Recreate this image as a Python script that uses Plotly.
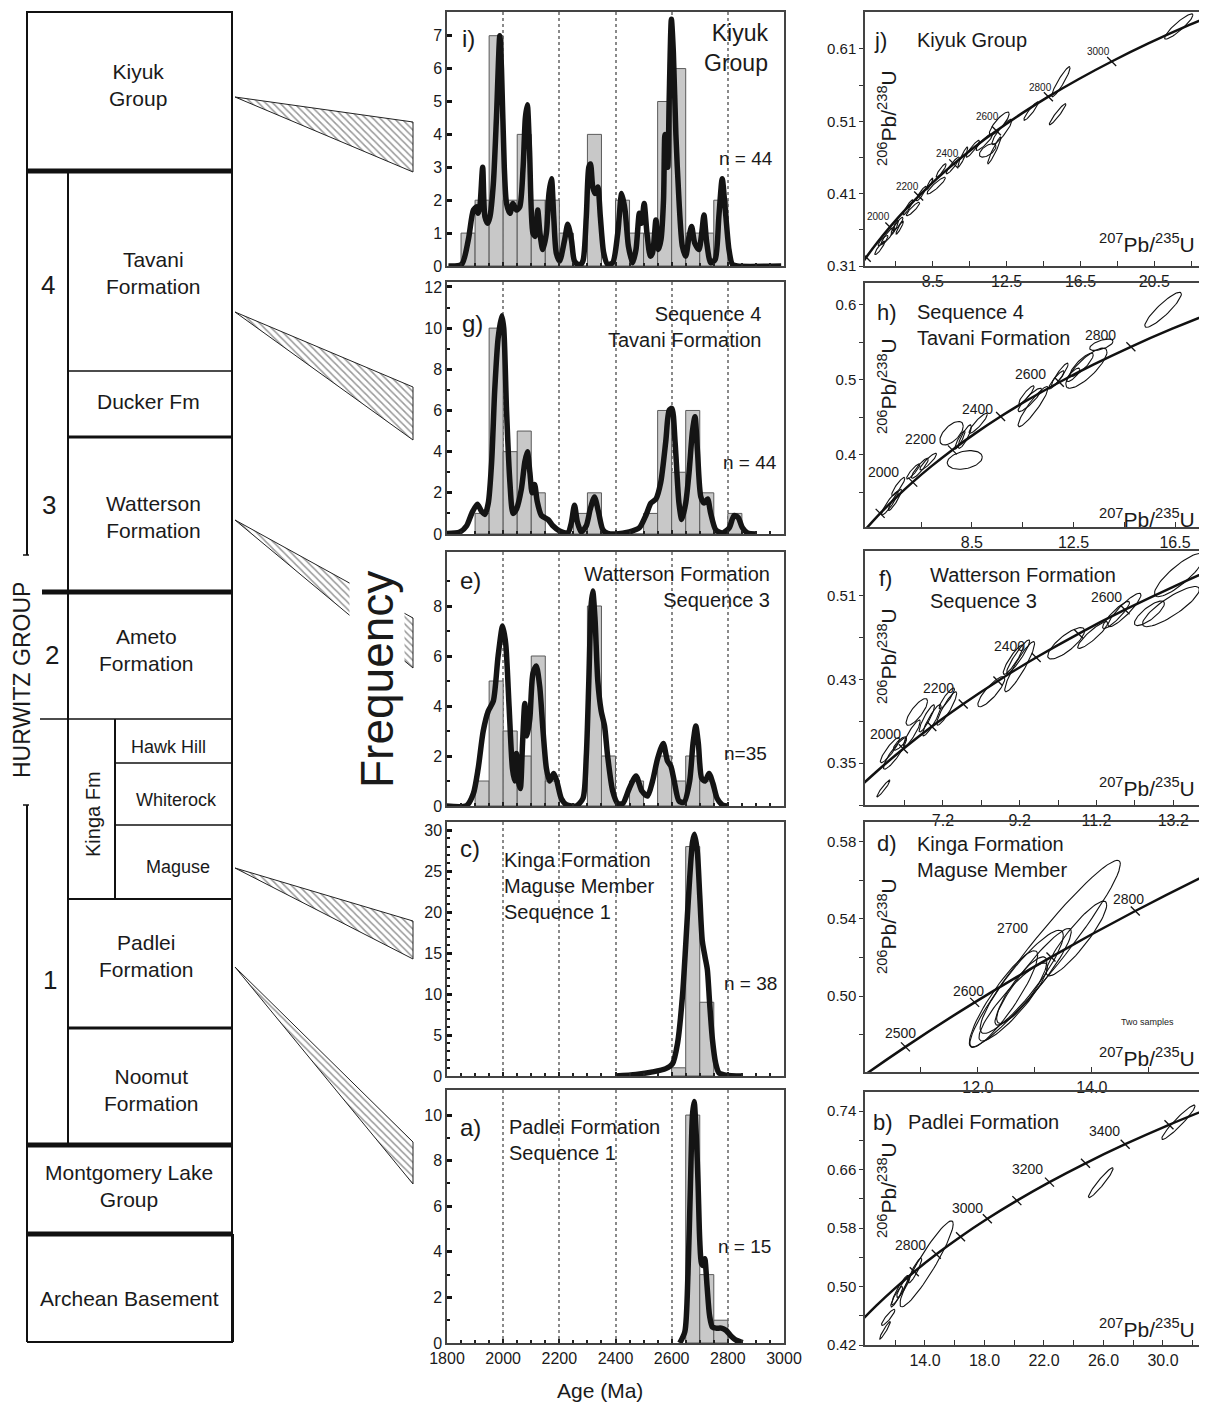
import numpy as np
import plotly.graph_objects as go

# ======================= DATA =======================
# Histograms: 50 Ma bins (bin start age) and counts
i_bins = [1850, 1900, 1950, 2000, 2050, 2100, 2150, 2200, 2250, 2300, 2350, 2400, 2450, 2500, 2550, 2600, 2650, 2700, 2750]
i_counts = [1, 2, 7, 2, 4, 2, 2, 1, 0, 4, 0, 2, 1, 1, 5, 6, 1, 1, 2]
g_bins = [1900, 1950, 2000, 2050, 2100, 2150, 2200, 2250, 2300, 2350, 2400, 2450, 2500, 2550, 2600, 2650, 2700, 2750, 2800]
g_counts = [1, 10, 4, 5, 2, 0, 0, 1, 2, 0, 0, 0, 1, 6, 3, 6, 2, 0, 1]
e_bins = [1900, 1950, 2000, 2050, 2100, 2150, 2200, 2250, 2300, 2350, 2400, 2450, 2500, 2550, 2600, 2650, 2700]
e_counts = [1, 5, 3, 2, 6, 1, 0, 0, 8, 2, 0, 1, 0, 2, 1, 2, 1]
c_bins = [2600, 2650, 2700]
c_counts = [1, 28, 9]
a_bins = [2650, 2700, 2750]
a_counts = [10, 3, 1]

# Probability density curves (age, relative probability in count units)
i_age = [1805, 1852, 1876, 1894, 1906, 1911, 1917, 1927, 1935, 1945, 1953, 1965, 1976, 1988, 1994, 2004, 2012,
         2024, 2035, 2047, 2059, 2071, 2079, 2086, 2094, 2106, 2114, 2123, 2131, 2141, 2154, 2163, 2172, 2180,
         2189, 2201, 2219, 2230, 2243, 2254, 2272, 2284, 2296, 2305, 2311, 2319, 2327, 2337, 2346, 2358, 2372,
         2390, 2408, 2422, 2434, 2446, 2461, 2473, 2485, 2493, 2502, 2512, 2524, 2532, 2544, 2553, 2562, 2571,
         2576, 2586, 2591, 2599, 2606, 2615, 2626, 2638, 2650, 2662, 2671, 2682, 2697, 2707, 2715, 2725, 2739,
         2755, 2768, 2780, 2792, 2804, 2816, 2833, 2990]
i_prob = [0, 0.05, 0.8, 1.7, 1.8, 1.6, 1.8, 3.0, 1.5, 1.3, 1.5, 2.5, 4.5, 7.0, 6.0, 3.0, 1.9,
          1.6, 1.9, 1.7, 1.8, 3.0, 4.5, 4.9, 3.5, 1.0, 0.9, 1.7, 1.0, 0.5, 1.0, 2.2, 2.65, 1.5,
          0.4, 0.15, 0.8, 1.27, 0.8, 0.15, 0.02, 0.15, 1.5, 3.0, 3.1, 2.4, 2.2, 2.4, 1.5, 0.4, 0.05,
          0.1, 1.0, 2.2, 1.7, 0.6, 0.1, 0.5, 1.6, 1.3, 1.9, 1.0, 0.3, 0.4, 1.4, 0.5, 0.8, 2.0,
          4.0, 3.0, 5.0, 7.5, 6.5, 4.0, 2.0, 0.6, 0.3, 0.9, 1.2, 0.7, 0.5, 1.0, 1.55, 0.7, 0.1,
          0.2, 1.5, 2.65, 1.6, 0.5, 0.05, 0, 0]
g_age = [1793, 1846, 1870, 1888, 1908, 1923, 1935, 1947, 1959, 1970, 1982, 1995, 2002, 2012, 2024, 2035, 2047,
         2065, 2077, 2086, 2095, 2103, 2112, 2121, 2136, 2160, 2177, 2201, 2230, 2242, 2254, 2264, 2278, 2296,
         2310, 2325, 2339, 2355, 2372, 2402, 2449, 2485, 2508, 2526, 2544, 2561, 2579, 2591, 2601, 2612, 2626,
         2636, 2650, 2662, 2674, 2683, 2692, 2704, 2716, 2728, 2739, 2757, 2781, 2805, 2822, 2837, 2852, 2870, 2899]
g_prob = [0.02, 0.1, 0.4, 1.0, 1.45, 1.1, 0.95, 1.5, 3.5, 7.0, 9.5, 10.6, 10.0, 6.0, 2.5, 1.0, 1.2,
          2.2, 3.5, 4.0, 3.0, 2.0, 2.4, 1.6, 0.9, 0.7, 0.4, 0.15, 0.05, 0.5, 1.4, 0.6, 0.1, 0.4,
          1.2, 1.8, 1.1, 0.2, 0.03, 0, 0.1, 0.3, 0.9, 1.5, 1.7, 2.5, 4.5, 6.0, 6.1, 4.5, 1.5,
          0.7, 1.5, 3.0, 5.0, 5.7, 4.0, 1.8, 1.5, 1.7, 1.0, 0.2, 0.05, 0.3, 0.9, 0.8, 0.3, 0.05, 0]
e_age = [1799, 1870, 1894, 1911, 1929, 1947, 1965, 1982, 1998, 2009, 2021, 2033, 2041, 2047, 2054, 2061, 2069,
         2077, 2085, 2095, 2106, 2118, 2130, 2142, 2154, 2165, 2180, 2191, 2207, 2225, 2260, 2284, 2296, 2305,
         2313, 2319, 2327, 2337, 2349, 2361, 2372, 2390, 2408, 2426, 2449, 2473, 2494, 2514, 2532, 2550, 2570,
         2585, 2597, 2609, 2626, 2644, 2664, 2676, 2686, 2695, 2707, 2719, 2733, 2747, 2762, 2780, 2798]
e_prob = [0, 0.02, 0.5, 1.5, 3.0, 3.8, 4.2, 6.0, 7.2, 6.5, 4.0, 1.5, 1.0, 2.1, 1.0, 0.7, 2.5,
          4.1, 2.8, 3.5, 5.3, 5.6, 4.8, 3.0, 1.5, 1.0, 1.3, 1.0, 0.3, 0.05, 0, 0.3, 2.0, 5.0,
          8.0, 8.6, 7.5, 5.0, 3.8, 3.2, 2.0, 0.6, 0.1, 0.1, 0.7, 1.2, 0.6, 0.4, 1.0, 1.9, 2.5,
          1.8, 1.6, 1.0, 0.2, 0.15, 1.0, 2.5, 3.2, 2.5, 1.1, 1.0, 1.3, 0.9, 0.3, 0.05, 0]
c_age = [2400, 2473, 2532, 2579, 2603, 2621, 2639, 2650, 2662, 2674, 2681, 2691, 2700, 2709, 2719, 2727, 2735,
         2745, 2757, 2768, 2792, 2851]
c_prob = [0, 0.2, 0.5, 0.9, 1.5, 4.0, 10.0, 16.0, 23.0, 28.5, 29.5, 27.5, 22.0, 16.5, 14.5, 13.0, 9.0,
          4.5, 1.5, 0.4, 0.1, 0]
a_age = [2629, 2647, 2658, 2667, 2674, 2680, 2688, 2694, 2700, 2706, 2712, 2718, 2726, 2735, 2745, 2759, 2777,
         2794, 2812, 2830, 2853]
a_prob = [0, 0.5, 3.0, 7.0, 10.0, 10.6, 9.0, 7.0, 4.5, 3.5, 3.4, 3.7, 2.5, 1.2, 0.7, 0.65, 0.65,
          0.55, 0.3, 0.12, 0.02]

# Concordia reference points (age Ma, 207Pb/235U, 206Pb/238U)
conc_age = [1700, 1800, 1900, 2000, 2100, 2200, 2300, 2400, 2500, 2600, 2700, 2800, 2900, 3000, 3100, 3200,
            3300, 3400, 3500, 3600]
conc_207 = [4.335, 4.887, 5.496, 6.169, 6.910, 7.729, 8.633, 9.630, 10.730, 11.944, 13.283, 14.762, 16.393,
            18.193, 20.180, 22.372, 24.791, 27.460, 30.405, 33.656]
conc_206 = [0.3018, 0.3221, 0.3428, 0.3638, 0.3851, 0.4067, 0.4287, 0.4511, 0.4738, 0.4968, 0.5202, 0.5440,
            0.5681, 0.5926, 0.6175, 0.6428, 0.6685, 0.6946, 0.7211, 0.7480]
j_tick_ages = [1800, 2000, 2200, 2400, 2600, 2800, 3000]
h_tick_ages = [1800, 2000, 2200, 2400, 2600, 2800]
f_tick_ages = [2000, 2100, 2200, 2300, 2400, 2500, 2600]
d_tick_ages = [2500, 2600, 2700, 2800]
b_tick_ages = [2700, 2800, 2900, 3000, 3100, 3200, 3300, 3400, 3500]

# Error ellipses: centre (207/235, 206/238), half-extents and correlation
j_x = [21.83, 15.44, 15.26, 13.82, 12.10, 12.24, 11.83, 11.47, 11.29, 10.66, 10.12, 9.58, 8.95, 8.68, 8.32,
       7.87, 7.42, 7.15, 6.61, 6.43, 6.70, 6.07, 5.80, 5.62]
j_y = [0.641, 0.5646, 0.5197, 0.524, 0.5068, 0.4952, 0.4697, 0.4697, 0.4813, 0.472, 0.4605, 0.449, 0.442,
       0.4211, 0.4234, 0.41, 0.3887, 0.391, 0.368, 0.363, 0.363, 0.352, 0.345, 0.335]
j_sx = [0.77, 0.50, 0.45, 0.39, 0.54, 0.54, 0.36, 0.45, 0.45, 0.36, 0.27, 0.36, 0.27, 0.50, 0.18, 0.27, 0.36,
        0.27, 0.27, 0.20, 0.20, 0.36, 0.27, 0.27]
j_sy = [0.0174, 0.0208, 0.0146, 0.0127, 0.016, 0.0174, 0.0185, 0.0093, 0.0116, 0.0116, 0.0139, 0.0116,
        0.0093, 0.0116, 0.008, 0.010, 0.0093, 0.0104, 0.0093, 0.010, 0.009, 0.0116, 0.007, 0.0093]
j_rho = [0.91, 0.93, 0.95, 0.93, 0.85, 0.90, 0.95, 0.6, 0.90, 0.92, 0.93, 0.92, 0.90, 0.92, 0.90, 0.90, 0.90,
         0.92, 0.90, 0.90, 0.92, 0.90, 0.85, 0.90]

h_x = [16.03, 13.60, 13.01, 12.82, 12.49, 11.96, 11.83, 10.78, 10.91, 10.65, 8.75, 7.70, 8.22, 8.22, 8.03,
       6.78, 6.45, 6.19, 5.60, 5.27, 5.47]
h_y = [0.5933, 0.5467, 0.5156, 0.52, 0.5067, 0.5067, 0.50, 0.4733, 0.4644, 0.48, 0.4422, 0.4289, 0.3933,
       0.4244, 0.42, 0.3911, 0.3822, 0.378, 0.3578, 0.3356, 0.34]
h_sx = [0.72, 0.46, 0.81, 0.46, 0.26, 0.33, 0.30, 0.46, 0.59, 0.30, 0.36, 0.46, 0.69, 0.26, 0.20, 0.33, 0.33,
        0.26, 0.26, 0.33, 0.26]
h_sy = [0.0233, 0.0076, 0.0267, 0.0156, 0.0089, 0.0156, 0.012, 0.0156, 0.0267, 0.012, 0.0133, 0.0156, 0.0124,
        0.0156, 0.012, 0.0111, 0.0133, 0.010, 0.0122, 0.0156, 0.014]
h_rho = [0.90, 0.6, 0.81, 0.85, 0.8, 0.92, 0.90, 0.90, 0.92, 0.90, 0.90, 0.6, 0.3, 0.85, 0.90, 0.90, 0.90,
         0.90, 0.90, 0.92, 0.92]

f_x = [13.36, 13.14, 12.58, 11.93, 11.71, 11.10, 10.41, 9.20, 9.16, 9.03, 8.46, 7.30, 7.30, 6.91, 6.78, 6.52,
       6.39, 6.08, 5.95, 5.82, 5.65]
f_y = [0.5301, 0.4998, 0.4934, 0.4966, 0.4918, 0.4726, 0.4647, 0.4423, 0.4519, 0.449, 0.4184, 0.4024, 0.412,
       0.3912, 0.3928, 0.399, 0.3785, 0.3689, 0.3593, 0.3625, 0.3258]
f_sx = [0.65, 0.74, 0.39, 0.43, 0.35, 0.39, 0.48, 0.39, 0.30, 0.26, 0.35, 0.26, 0.20, 0.24, 0.20, 0.28, 0.22,
        0.17, 0.30, 0.25, 0.17]
f_sy = [0.0208, 0.0192, 0.0118, 0.016, 0.013, 0.0128, 0.015, 0.024, 0.016, 0.014, 0.0144, 0.016, 0.010, 0.015,
        0.013, 0.0128, 0.0128, 0.0064, 0.015, 0.012, 0.008]
f_rho = [0.85, 0.85, 0.80, 0.90, 0.90, 0.90, 0.80, 0.92, 0.93, 0.90, 0.85, 0.90, 0.90, 0.90, 0.90, 0.80, 0.90,
         0.80, 0.90, 0.90, 0.95]

d_x = [13.18, 12.97, 12.77, 12.45, 12.77, 13.73, 12.62]
d_y = [0.522, 0.51, 0.5074, 0.4985, 0.5031, 0.5298, 0.497]
d_sx = [1.32, 0.67, 0.73, 0.60, 0.44, 0.53, 0.60]
d_sy = [0.0482, 0.025, 0.0267, 0.025, 0.0172, 0.0193, 0.0202]
d_rho = [0.96, 0.93, 0.90, 0.90, 0.85, 0.90, 0.90]

b_x = [31.04, 25.82, 14.11, 13.33, 12.32, 12.55, 11.53, 11.31, 12.10]
b_y = [0.7246, 0.6419, 0.531, 0.522, 0.495, 0.50, 0.4578, 0.44, 0.486]
b_sx = [1.12, 0.83, 1.79, 0.45, 0.56, 0.45, 0.45, 0.36, 0.40]
b_sy = [0.0235, 0.0204, 0.0588, 0.017, 0.020, 0.015, 0.011, 0.012, 0.014]
b_rho = [0.95, 0.95, 0.93, 0.90, 0.92, 0.90, 0.90, 0.95, 0.90]

# ======================= FIGURE =======================
PW, PH = 1207, 1404          # browser page size
OFF = 8                      # default body margin of the html page
W, H = PW - OFF, PH - OFF    # figure size so that it ends at the page edge
FONT = "Liberation Sans, Arial, Helvetica, sans-serif"
TXT = "#1a1a1a"


def xd(a, b):
    return [(a - OFF) / W, min(1.0, (b - OFF) / W)]


def yd(top, bot):
    return [1 - (bot - OFF) / H, min(1.0, 1 - (top - OFF) / H)]


def key(ax, n):
    return ax if n == 1 else f"{ax}{n}"


def ref(ax, n):
    return ax if n == 1 else f"{ax}{n}"


fig = go.Figure()
layout_axes = {}

# ---------- histogram panels ----------
hist_panels = [
    dict(n=1, bins=i_bins, counts=i_counts, age=i_age, prob=i_prob, top=12, bot=266, ymax=7.72,
         yt=list(range(0, 8)), ym=[]),
    dict(n=2, bins=g_bins, counts=g_counts, age=g_age, prob=g_prob, top=282, bot=534, ymax=12.24,
         yt=[0, 2, 4, 6, 8, 10, 12], ym=[1, 3, 5, 7, 9, 11]),
    dict(n=3, bins=e_bins, counts=e_counts, age=e_age, prob=e_prob, top=552, bot=806, ymax=10.16,
         yt=[0, 2, 4, 6, 8], ym=[1, 3, 5, 7, 9]),
    dict(n=4, bins=c_bins, counts=c_counts, age=c_age, prob=c_prob, top=822, bot=1076, ymax=31.0,
         yt=[0, 5, 10, 15, 20, 25, 30], ym=[v for v in range(31) if v % 5]),
    dict(n=5, bins=a_bins, counts=a_counts, age=a_age, prob=a_prob, top=1090, bot=1343, ymax=11.1,
         yt=[0, 2, 4, 6, 8, 10], ym=[1, 3, 5, 7, 9]),
]
age_ticks = list(range(1800, 3001, 200))
age_minor = [v for v in range(1850, 3000, 50) if v % 200]

for p in hist_panels:
    n = p["n"]
    xa, ya = ref("x", n), ref("y", n)
    fig.add_trace(go.Bar(x=[b + 25 for b in p["bins"]], y=p["counts"], width=[50] * len(p["bins"]),
                         marker=dict(color="#c8c8c8", line=dict(color="#5a5a5a", width=1)),
                         xaxis=xa, yaxis=ya, showlegend=False, hoverinfo="skip"))
    fig.add_trace(go.Scatter(x=p["age"], y=p["prob"], mode="lines",
                             line=dict(color="#141414", width=5.5, shape="spline", smoothing=0.7),
                             xaxis=xa, yaxis=ya, showlegend=False, hoverinfo="skip"))
    layout_axes[key("xaxis", n)] = dict(
        domain=xd(447, 784), range=[1800, 3000], anchor=ya, showline=True, mirror=True,
        linecolor="#444", linewidth=1.5, ticks="inside", ticklen=4, tickwidth=1.5, tickcolor="#222",
        tickmode="array", tickvals=age_ticks, showticklabels=(n == 5),
        tickfont=dict(size=16, family=FONT, color=TXT),
        showgrid=True, gridcolor="#8a8a8a", griddash="dot", gridwidth=1.5, zeroline=False,
        minor=dict(tickvals=age_minor, ticks="inside", ticklen=3, tickcolor="#222", showgrid=False))
    layout_axes[key("yaxis", n)] = dict(
        domain=yd(p["top"], p["bot"]), range=[0, p["ymax"]], anchor=xa, showline=True, mirror=True,
        linecolor="#444", linewidth=1.5, ticks="inside", ticklen=5, tickwidth=2.5, tickcolor="#111",
        tickmode="array", tickvals=p["yt"], tickfont=dict(size=16, family=FONT, color=TXT),
        showgrid=False, zeroline=False,
        minor=dict(tickvals=p["ym"], ticks="inside", ticklen=3, tickwidth=2, tickcolor="#111",
                   showgrid=False) if p["ym"] else None)

# ---------- concordia panels ----------
conc_panels = [
    dict(n=6, top=12, bot=266, xr=[4.82, 23.36], yr=[0.31, 0.661],
         xt=[8.5, 12.5, 16.5, 20.5], xtt=["8.5", "12.5", "16.5", "20.5"], xm=[6.5, 10.5, 14.5, 18.5, 22.5],
         yt=[0.31, 0.41, 0.51, 0.61], ytt=["0.31", "0.41", "0.51", "0.61"], ym=[0.36, 0.46, 0.56],
         ex=j_x, ey=j_y, esx=j_sx, esy=j_sy, er=j_rho, ticks=j_tick_ages),
    dict(n=7, top=283, bot=527, xr=[4.29, 17.76], yr=[0.304, 0.629],
         xt=[8.5, 12.5, 16.5], xtt=["8.5", "12.5", "16.5"], xm=[6.5, 10.5, 14.5],
         yt=[0.4, 0.5, 0.6], ytt=["0.4", "0.5", "0.6"], ym=[0.35, 0.45, 0.55],
         ex=h_x, ey=h_y, esx=h_sx, esy=h_sy, er=h_rho, ticks=h_tick_ages),
    dict(n=8, top=551, bot=805, xr=[5.17, 14.08], yr=[0.310, 0.553],
         xt=[7.2, 9.2, 11.2, 13.2], xtt=["7.2", "9.2", "11.2", "13.2"], xm=[6.2, 8.2, 10.2, 12.2],
         yt=[0.35, 0.43, 0.51], ytt=["0.35", "0.43", "0.51"], ym=[0.31, 0.39, 0.47],
         ex=f_x, ey=f_y, esx=f_sx, esy=f_sy, er=f_rho, ticks=f_tick_ages),
    dict(n=9, top=822, bot=1072, xr=[10.02, 16.02], yr=[0.4608, 0.590],
         xt=[12.0, 14.0], xtt=["12.0", "14.0"], xm=[11, 13, 15],
         yt=[0.50, 0.54, 0.58], ytt=["0.50", "0.54", "0.58"], ym=[0.48, 0.52, 0.56],
         ex=d_x, ey=d_y, esx=d_sx, esy=d_sy, er=d_rho, ticks=d_tick_ages),
    dict(n=10, top=1092, bot=1345, xr=[9.97, 32.96], yr=[0.42, 0.766],
         xt=[14, 18, 22, 26, 30], xtt=["14.0", "18.0", "22.0", "26.0", "30.0"], xm=[12, 16, 20, 24, 28, 32],
         yt=[0.42, 0.50, 0.58, 0.66, 0.74], ytt=["0.42", "0.50", "0.58", "0.66", "0.74"],
         ym=[0.46, 0.54, 0.62, 0.70],
         ex=b_x, ey=b_y, esx=b_sx, esy=b_sy, er=b_rho, ticks=b_tick_ages),
]

tt = np.linspace(0, 2 * np.pi, 64)
for p in conc_panels:
    n = p["n"]
    xa, ya = ref("x", n), ref("y", n)
    fig.add_trace(go.Scatter(x=conc_207, y=conc_206, mode="lines",
                             line=dict(color="#111", width=2.5, shape="spline", smoothing=1.0),
                             xaxis=xa, yaxis=ya, showlegend=False, hoverinfo="skip"))
    idx = [conc_age.index(a) for a in p["ticks"]]
    fig.add_trace(go.Scatter(x=[conc_207[k] for k in idx], y=[conc_206[k] for k in idx], mode="markers",
                             marker=dict(symbol="line-nw", size=9, color="#111",
                                         line=dict(color="#111", width=1.3)),
                             xaxis=xa, yaxis=ya, showlegend=False, hoverinfo="skip"))
    ex_all, ey_all = [], []
    for cx, cy, sx, sy, r in zip(p["ex"], p["ey"], p["esx"], p["esy"], p["er"]):
        ex_all += list(cx + sx * np.cos(tt)) + [None]
        ey_all += list(cy + sy * (r * np.cos(tt) + np.sqrt(1 - r * r) * np.sin(tt))) + [None]
    fig.add_trace(go.Scatter(x=ex_all, y=ey_all, mode="lines", line=dict(color="#111", width=1.1),
                             xaxis=xa, yaxis=ya, showlegend=False, hoverinfo="skip"))
    layout_axes[key("xaxis", n)] = dict(
        domain=xd(865, 1207), range=p["xr"], anchor=ya, showline=True, mirror=True, linecolor="#444",
        linewidth=1.5, ticks="inside", ticklen=5, tickcolor="#333", tickmode="array", tickvals=p["xt"],
        ticktext=p["xtt"], tickfont=dict(size=16, family=FONT, color=TXT), showgrid=False, zeroline=False,
        minor=dict(tickvals=p["xm"], ticks="inside", ticklen=5, tickcolor="#333", showgrid=False))
    layout_axes[key("yaxis", n)] = dict(
        domain=yd(p["top"], p["bot"]), range=p["yr"], anchor=xa, showline=True, mirror=True,
        linecolor="#444", linewidth=1.5, ticks="outside", ticklen=4, tickcolor="#333", tickmode="array",
        tickvals=p["yt"], ticktext=p["ytt"], tickfont=dict(size=15, family=FONT, color=TXT),
        showgrid=False, zeroline=False,
        minor=dict(tickvals=p["ym"], ticks="outside", ticklen=4, tickcolor="#333", showgrid=False))

# ---------- overlay axes in page-pixel units for the stratigraphic column ----------
layout_axes["xaxis11"] = dict(domain=[0, 1], range=[OFF, OFF + W], visible=False, anchor="y11")
layout_axes["yaxis11"] = dict(domain=[0, 1], range=[OFF + H, OFF], visible=False, anchor="x11")

wedges = [
    [(235, 97), (413, 122), (413, 172)],
    [(235, 312), (413, 387), (413, 440)],
    [(235, 520), (413, 618), (413, 668)],
    [(235, 868), (413, 921), (413, 959)],
    [(235, 967), (413, 1142), (413, 1184)],
]
for w in wedges:
    fig.add_trace(go.Scatter(x=[q[0] for q in w] + [w[0][0]], y=[q[1] for q in w] + [w[0][1]],
                             mode="lines", fill="toself", line=dict(color="#222", width=1),
                             fillcolor="white",
                             fillpattern=dict(shape="\\", fgcolor="#333", bgcolor="white", size=5,
                                              solidity=0.3),
                             xaxis="x11", yaxis="y11", showlegend=False, hoverinfo="skip"))


def L(x0, y0, x1, y1, w=2):
    return dict(type="line", xref="x11", yref="y11", x0=x0, y0=y0, x1=x1, y1=y1,
                line=dict(color="#111", width=w))


shapes = [
    dict(type="rect", xref="x11", yref="y11", x0=27, y0=12, x1=232, y1=171, line=dict(color="#111", width=2)),
    L(27, 171, 232, 171, 5),
    L(27, 171, 27, 555), L(23, 555, 29, 555, 1.5),
    L(27, 805, 27, 1145), L(23, 805, 29, 805, 1.5),
    L(68, 171, 68, 1145),
    L(232, 171, 232, 1342),
    L(68, 371, 232, 371, 1.5),
    L(68, 437, 232, 437, 3),
    L(42, 592, 232, 592, 5),
    L(40, 719, 232, 719, 1.5),
    L(115, 719, 115, 899),
    L(115, 763, 232, 763, 1.5),
    L(115, 825, 232, 825, 1.5),
    L(68, 899, 232, 899, 2),
    L(68, 1028, 232, 1028, 3),
    L(27, 1145, 232, 1145, 5),
    L(27, 1234, 233, 1234, 5),
    L(27, 1145, 27, 1342),
    L(233, 1234, 233, 1342),
    L(27, 1342, 233, 1342),
]


def A(x, y, text, size, **kw):
    d = dict(x=x, y=y, xref="x11", yref="y11", text=text, showarrow=False,
             font=dict(size=size, family=FONT, color=TXT), xanchor="center", yanchor="middle")
    d.update(kw)
    return d


ann = [
    # stratigraphic column
    A(138, 85, "Kiyuk<br>Group", 21),
    A(48, 285, "4", 26), A(49, 505, "3", 26), A(52, 655, "2", 26), A(50, 980, "1", 26),
    A(153, 273, "Tavani<br>Formation", 21),
    A(148, 401, "Ducker Fm", 21),
    A(153, 517, "Watterson<br>Formation", 21),
    A(146, 650, "Ameto<br>Formation", 21),
    A(168, 747, "Hawk Hill", 18),
    A(176, 800, "Whiterock", 18),
    A(178, 867, "Maguse", 18),
    A(93, 814, "Kinga Fm", 20, textangle=-90),
    A(146, 956, "Padlei<br>Formation", 21),
    A(151, 1090, "Noomut<br>Formation", 21),
    A(129, 1186, "Montgomery Lake<br>Group", 21),
    A(129, 1298, "Archean Basement", 21),
    A(22, 680, "HURWITZ GROUP", 23, textangle=-90),
    # middle column
    A(377, 680, "Frequency", 46, textangle=-90, bgcolor="white"),
    A(600, 1390, "Age (Ma)", 21),
    A(468, 38, "i)", 24),
    A(770, 48, "Kiyuk<br>Group", 23, xanchor="right", align="right"),
    A(746, 158, "n = 44", 19),
    A(472, 323, "g)", 24),
    A(763, 327, "Sequence 4<br>Tavani Formation", 20, xanchor="right", align="right"),
    A(750, 462, "n = 44", 19),
    A(470, 580, "e)", 24),
    A(772, 587, "Watterson Formation<br>Sequence 3", 20, xanchor="right", align="right"),
    A(745, 753, "n=35", 19),
    A(470, 848, "c)", 24),
    A(502, 886, "Kinga Formation<br>Maguse Member<br>Sequence 1", 20, xanchor="left", align="left"),
    A(750, 983, "n = 38", 19),
    A(470, 1127, "a)", 24),
    A(507, 1140, "Padlei Formation<br>Sequence 1", 20, xanchor="left", align="left"),
    A(744, 1246, "n = 15", 19),
    # right column
    A(880, 40, "j)", 22), A(915, 40, "Kiyuk Group", 20, xanchor="left"),
    A(887, 312, "h)", 22), A(915, 325, "Sequence 4<br>Tavani Formation", 20, xanchor="left", align="left"),
    A(885, 578, "f)", 22), A(928, 588, "Watterson Formation<br>Sequence 3", 20, xanchor="left", align="left"),
    A(887, 843, "d)", 22), A(915, 857, "Kinga Formation<br>Maguse Member", 20, xanchor="left", align="left"),
    A(883, 1122, "b)", 22), A(906, 1122, "Padlei Formation", 20, xanchor="left"),
    A(1147, 1022, "Two samples", 9),
]
# concordia axis labels
for yc, yx in [(118, 243), (386, 518), (656, 787), (926, 1057), (1190, 1328)]:
    ann.append(A(887, yc, "<sup>206</sup>Pb/<sup>238</sup>U", 21, textangle=-90))
    ann.append(A(1197, yx, "<sup>207</sup>Pb/<sup>235</sup>U", 21, xanchor="right"))
# concordia age labels
for (x, y, t) in [(878, 216, "2000"), (907, 186, "2200"), (947, 153, "2400"), (987, 116, "2600"),
                  (1040, 87, "2800"), (1098, 51, "3000")]:
    ann.append(A(x, y, t, 10))
for (x, y, t) in [(883, 472, "2000"), (920, 439, "2200"), (977, 409, "2400"), (1030, 374, "2600"),
                  (1100, 335, "2800"),
                  (885, 734, "2000"), (938, 688, "2200"), (1009, 646, "2400"), (1106, 597, "2600"),
                  (900, 1033, "2500"), (968, 991, "2600"), (1012, 928, "2700"), (1128, 899, "2800"),
                  (910, 1245, "2800"), (967, 1208, "3000"), (1027, 1169, "3200"), (1104, 1131, "3400")]:
    ann.append(A(x, y, t, 14))

fig.update_layout(
    width=W, height=H, autosize=False,
    margin=dict(l=0, r=0, t=0, b=0, pad=0, autoexpand=False),
    paper_bgcolor="white", plot_bgcolor="rgba(0,0,0,0)",
    font=dict(family=FONT, color=TXT),
    showlegend=False, barmode="overlay",
    shapes=shapes, annotations=ann,
    **layout_axes,
)

fig.write_html("out.html")
